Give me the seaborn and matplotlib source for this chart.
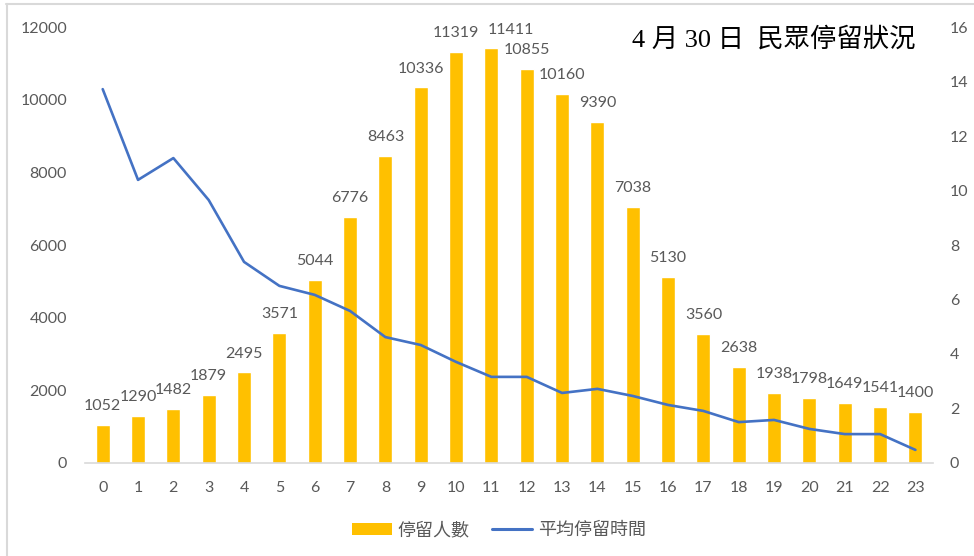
import matplotlib
matplotlib.use("Agg")
import matplotlib.pyplot as plt
from matplotlib.lines import Line2D
from matplotlib.patches import Patch
import seaborn as sns
import pandas as pd

# Hourly visitor counts and average stay duration
hours = list(range(24))
visitors = [1052, 1290, 1482, 1879, 2495, 3571, 5044, 6776, 8463, 10336, 11319, 11411,
            10855, 10160, 9390, 7038, 5130, 3560, 2638, 1938, 1798, 1649, 1541, 1400]
avg_stay = [13.72, 10.39, 11.19, 9.65, 7.38, 6.50, 6.17, 5.58, 4.62, 4.33, 3.71, 3.16,
            3.16, 2.57, 2.72, 2.46, 2.13, 1.91, 1.50, 1.58, 1.25, 1.06, 1.06, 0.48]
bar_label = "停留人數"
line_label = "平均停留時間"
title_text = "4 月 30 日  民眾停留狀況"

df = pd.DataFrame({"hour": hours, "visitors": visitors, "avg": avg_stay})

BAR_COLOR = "#FFC000"
LINE_COLOR = "#4472C4"
TICK_COLOR = "#595959"

sns.set_theme(style="white")
plt.rcParams["font.family"] = ["Lato", "Noto Sans CJK TC", "DejaVu Sans"]

fig = plt.figure(figsize=(9.74, 5.56), dpi=100)
ax = fig.add_axes([0.0873, 0.1673, 0.958 - 0.0873, 0.9514 - 0.1673])

sns.barplot(data=df, x="hour", y="visitors", color=BAR_COLOR, width=0.40,
            saturation=1, ax=ax)
ax.set_xlim(-0.5, 23.5)
ax.set_ylim(0, 12000)
ax.set_yticks(range(0, 12001, 2000))
ax.set_xlabel("")
ax.set_ylabel("")

# Value labels above the bars; the peak label is nudged right so it clears its neighbour
for i, v in enumerate(visitors):
    dx = 14 if v == max(visitors) else 0
    ax.annotate(f"{v}", (i, v), xytext=(dx, 8.5), textcoords="offset points",
                ha="center", va="bottom", fontsize=11.5, color=TICK_COLOR)

ax2 = ax.twinx()
sns.lineplot(data=df, x="hour", y="avg", color=LINE_COLOR, linewidth=1.9, ax=ax2)
ax2.set_ylim(0, 16)
ax2.set_yticks(range(0, 17, 2))
ax2.set_xlim(-0.5, 23.5)
ax2.set_ylabel("")

for a in (ax, ax2):
    for side in ("top", "left", "right"):
        a.spines[side].set_visible(False)
    a.spines["bottom"].set_color("#D9D9D9")
    a.spines["bottom"].set_linewidth(1.2)
    a.tick_params(length=0, labelsize=11.5, colors=TICK_COLOR)
ax.tick_params(axis="y", pad=13)
ax.tick_params(axis="x", pad=13)
ax2.tick_params(axis="y", pad=12)
ax2.spines["bottom"].set_visible(False)

fig.text(0.940, 0.930, title_text, ha="right", va="center", fontsize=19, color="black",
         family=["Liberation Serif", "Noto Sans CJK TC"])

handles = [Patch(facecolor=BAR_COLOR, edgecolor="none"),
           Line2D([0], [0], color=LINE_COLOR, linewidth=2.2)]
fig.legend(handles, [bar_label, line_label], loc="center", bbox_to_anchor=(0.512, 0.047),
           ncol=2, frameon=False, fontsize=13, labelcolor=TICK_COLOR,
           handlelength=2.2, handleheight=0.6, handletextpad=0.3, columnspacing=1.3)

# Thin frame edges at top and left
fig.add_artist(Line2D([0.006, 1.0], [0.993, 0.993], color="#D9D9D9", linewidth=1.5,
                      transform=fig.transFigure))
fig.add_artist(Line2D([0.0068, 0.0068], [0.0, 0.993], color="#D9D9D9", linewidth=1.5,
                      transform=fig.transFigure))

fig.savefig("out.png", dpi=100, facecolor="white")
